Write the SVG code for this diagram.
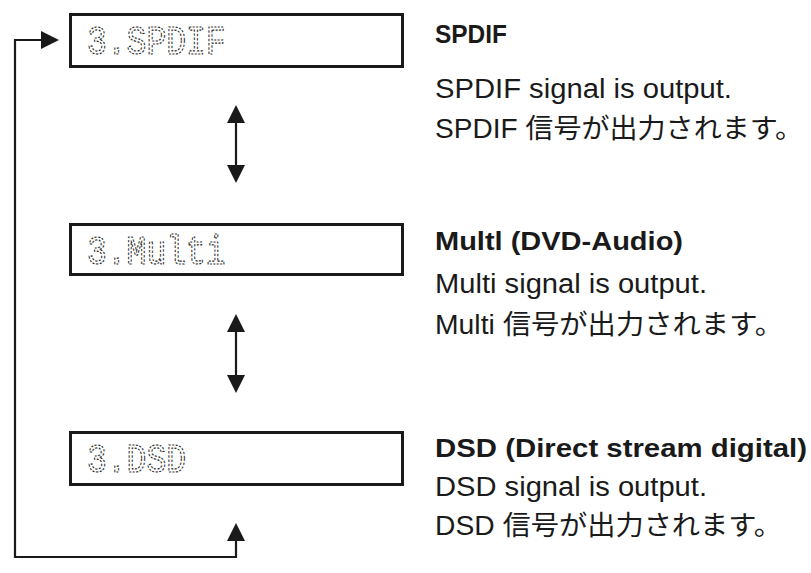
<svg xmlns="http://www.w3.org/2000/svg" width="811" height="573" viewBox="0 0 811 573">
  <defs>
    <style>
      .box { fill: #ffffff; stroke: #1a1a1a; stroke-width: 3; }
      .lcd { font-family: "Liberation Mono", "DejaVu Sans Mono", monospace; font-size: 33px; fill: none; stroke: #2a2a2a; stroke-width: 1; stroke-dasharray: 2 1.4; }
      .title { font-family: "Liberation Sans", "Noto Sans CJK JP", sans-serif; font-size: 26px; font-weight: bold; fill: #1a1a1a; }
      .desc { font-family: "Liberation Sans", "Noto Sans CJK JP", sans-serif; font-size: 27px; fill: #1a1a1a; }
      .conn { fill: none; stroke: #1a1a1a; stroke-width: 2.2; }
    </style>
    <marker id="head" viewBox="0 0 18 18" markerWidth="18" markerHeight="18" refX="3" refY="9" orient="auto-start-reverse" markerUnits="userSpaceOnUse">
      <path d="M0,0 L18,9 L0,18 z" fill="#1a1a1a"/>
    </marker>
  </defs>
  <rect width="811" height="573" fill="#ffffff"/>

  <g id="connectors">
    <path class="conn" d="M236,120 L236,168" marker-start="url(#head)" marker-end="url(#head)"/>
    <path class="conn" d="M236,329 L236,378" marker-start="url(#head)" marker-end="url(#head)"/>
    <path class="conn" d="M44,40 L15,40 L15,557 L236,557 L236,538" marker-start="url(#head)" marker-end="url(#head)"/>
  </g>

  <g id="node-spdif">
    <rect class="box" x="70.5" y="14.5" width="332" height="52"/>
    <text class="lcd" transform="translate(87,54) scale(1,1.24)" x="0" y="0">3.SPDIF</text>
    <text class="title" x="435" y="43" textLength="72" lengthAdjust="spacingAndGlyphs">SPDIF</text>
    <text class="desc" x="435" y="98" textLength="297" lengthAdjust="spacingAndGlyphs">SPDIF signal is output.</text>
    <text class="desc" x="435" y="138" textLength="368" lengthAdjust="spacingAndGlyphs">SPDIF 信号が出力されます。</text>
  </g>

  <g id="node-multi">
    <rect class="box" x="70.5" y="224.5" width="332" height="50"/>
    <text class="lcd" transform="translate(87,264) scale(1,1.24)" x="0" y="0">3.Multi</text>
    <text class="title" x="435" y="250" textLength="248" lengthAdjust="spacingAndGlyphs">Multl (DVD-Audio)</text>
    <text class="desc" x="435" y="293" textLength="272" lengthAdjust="spacingAndGlyphs">Multi signal is output.</text>
    <text class="desc" x="435" y="334" textLength="348" lengthAdjust="spacingAndGlyphs">Multi 信号が出力されます。</text>
  </g>

  <g id="node-dsd">
    <rect class="box" x="70.5" y="432.5" width="332" height="52"/>
    <text class="lcd" transform="translate(87,472) scale(1,1.24)" x="0" y="0">3.DSD</text>
    <text class="title" x="435" y="457" textLength="372" lengthAdjust="spacingAndGlyphs">DSD (Direct stream digital)</text>
    <text class="desc" x="435" y="496" textLength="272" lengthAdjust="spacingAndGlyphs">DSD signal is output.</text>
    <text class="desc" x="435" y="535" textLength="347" lengthAdjust="spacingAndGlyphs">DSD 信号が出力されます。</text>
  </g>
</svg>
